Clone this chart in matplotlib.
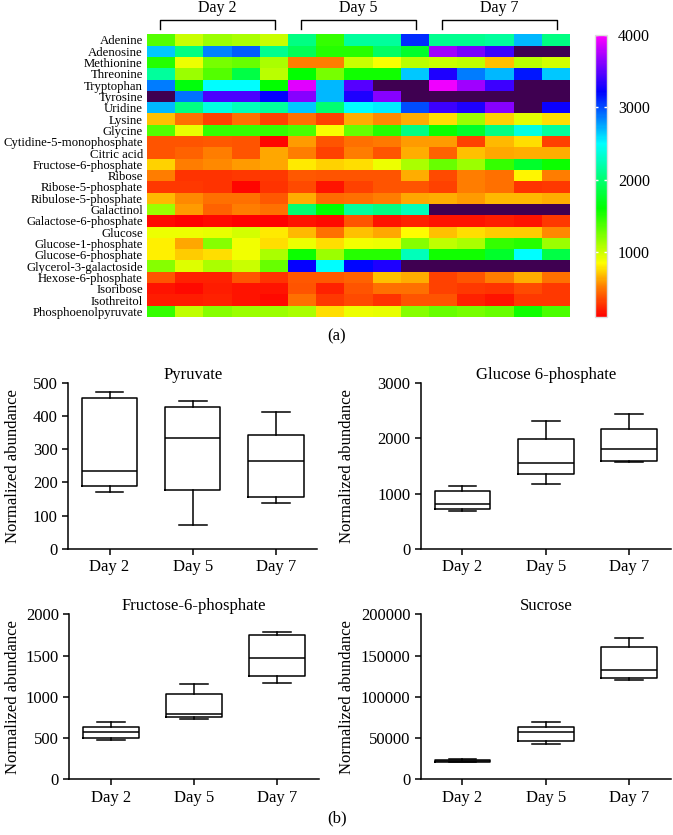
import matplotlib
matplotlib.use('Agg')
import matplotlib.pyplot as plt
from matplotlib.colors import LinearSegmentedColormap, Normalize
import numpy as np

plt.rcParams['font.family'] = ['Liberation Serif', 'DejaVu Serif']

# --- data ---
metabolites = ['Adenine', 'Adenosine', 'Methionine', 'Threonine', 'Tryptophan',
               'Tyrosine', 'Uridine', 'Lysine', 'Glycine',
               'Cytidine-5-monophosphate', 'Citric acid', 'Fructose-6-phosphate',
               'Ribose', 'Ribose-5-phosphate', 'Ribulose-5-phosphate', 'Galactinol',
               'Galactose-6-phosphate', 'Glucose', 'Glucose-1-phosphate',
               'Glucose-6-phosphate', 'Glycerol-3-galactoside', 'Hexose-6-phosphate',
               'Isoribose', 'Isothreitol', 'Phosphoenolpyruvate']
days = ['Day 2', 'Day 5', 'Day 7']
reps_per_day = 5

# 25 metabolites x 15 samples (5 per day), values > 4000 shown as the "over" colour
heat_values = [
    [1350, 1000, 1150, 1100, 1000, 2050, 1450, 2150, 2150, 3100, 2100, 2100, 2150, 2700, 2050],
    [2650, 2050, 2850, 2950, 2100, 1900, 1500, 1500, 1950, 1750, 3700, 3580, 3400, 4500, 4500],
    [1500, 900, 1250, 1300, 1100, 520, 520, 1000, 870, 1050, 1000, 1030, 690, 1050, 980],
    [2150, 1150, 1350, 1850, 1050, 1600, 1250, 1550, 1550, 2650, 3300, 2870, 2700, 3150, 2650],
    [2870, 1650, 2500, 2500, 1600, 3900, 2700, 3480, 4500, 4500, 3950, 3700, 3400, 4500, 4500],
    [4500, 2900, 3450, 3450, 3230, 3620, 2700, 3300, 3620, 4500, 4500, 4500, 4500, 4500, 4500],
    [2700, 2050, 2400, 2250, 2150, 2650, 2000, 2500, 2550, 3000, 3400, 3300, 3620, 4500, 3250],
    [690, 480, 320, 480, 320, 480, 320, 640, 550, 640, 770, 1150, 730, 930, 760],
    [1350, 920, 1450, 1450, 1450, 1380, 870, 1300, 1500, 2050, 1570, 1750, 2050, 2400, 2150],
    [380, 380, 390, 380, 120, 590, 380, 480, 500, 590, 590, 320, 670, 770, 320],
    [380, 430, 520, 380, 620, 520, 320, 520, 380, 640, 430, 690, 620, 640, 640],
    [730, 520, 550, 590, 620, 790, 730, 770, 900, 1100, 1300, 1150, 1450, 1750, 1570],
    [520, 270, 270, 290, 290, 400, 380, 380, 380, 640, 350, 520, 480, 830, 520],
    [290, 290, 270, 120, 270, 350, 170, 320, 380, 380, 320, 520, 480, 270, 290],
    [670, 550, 480, 480, 400, 640, 460, 480, 520, 620, 640, 590, 670, 670, 640],
    [1150, 590, 430, 520, 480, 2000, 1600, 2150, 2050, 2250, 4500, 4500, 4500, 4500, 4500],
    [140, 110, 140, 110, 110, 170, 140, 380, 170, 220, 170, 170, 200, 170, 290],
    [900, 900, 920, 980, 790, 670, 480, 690, 620, 840, 690, 760, 710, 710, 550],
    [810, 620, 1200, 880, 770, 900, 770, 890, 900, 1200, 1030, 1100, 1450, 1500, 1150],
    [810, 710, 770, 880, 1100, 1570, 1150, 1500, 1500, 2250, 1550, 1550, 1750, 2500, 1850],
    [1200, 950, 1100, 1000, 1300, 3230, 2500, 3200, 3300, 4500, 4500, 4500, 4500, 4500, 4500],
    [380, 220, 220, 380, 270, 400, 400, 430, 690, 640, 320, 380, 520, 640, 480],
    [170, 140, 200, 170, 170, 380, 220, 380, 480, 480, 320, 290, 270, 350, 290],
    [200, 200, 220, 170, 140, 480, 290, 350, 270, 380, 380, 220, 170, 290, 290],
    [1450, 1030, 1200, 1150, 1150, 1100, 770, 900, 920, 1200, 1300, 1250, 1300, 1550, 1380],
]
color_ticks = [1000, 2000, 3000, 4000]

# box plot stats per day: (min, q1, median, q3, max)
pyruvate = [(172, 190, 235, 455, 472), (72, 178, 335, 428, 445), (137, 155, 265, 342, 412)]
glucose_6p = [(690, 730, 820, 1040, 1140), (1170, 1360, 1560, 1980, 2310),
              (1570, 1590, 1810, 2170, 2440)]
fructose_6p = [(480, 500, 575, 630, 700), (730, 750, 790, 1040, 1160),
               (1170, 1250, 1475, 1750, 1790)]
sucrose = [(20500, 21300, 22200, 23300, 24300), (43000, 46000, 57000, 63000, 69000),
           (120000, 123000, 133000, 160000, 171000)]

# --- figure ---
fig = plt.figure(figsize=(6.73, 8.35), dpi=100)

cmap = LinearSegmentedColormap.from_list('spectrum', [
    (0.0, '#ff0000'), (0.108, '#ff8000'), (0.19, '#ffff00'), (0.385, '#00ff00'),
    (0.615, '#00ffff'), (0.80, '#0000ff'), (1.0, '#ff00ff')])
cmap.set_over('#3f0051')
norm = Normalize(vmin=100, vmax=4000)

ax = fig.add_axes([0.2184, 0.6204, 0.6285, 0.3385])
data = np.array(heat_values)
mesh = ax.pcolormesh(np.arange(data.shape[1] + 1), np.arange(data.shape[0] + 1),
                     data, cmap=cmap, norm=norm)
ax.set_xlim(0, data.shape[1])
ax.set_ylim(data.shape[0], 0)
ax.set_yticks(np.arange(len(metabolites)) + 0.5)
ax.set_yticklabels(metabolites, fontsize=9.2)
ax.tick_params(axis='y', length=0, pad=3)
ax.set_xticks([])
for s in ax.spines.values():
    s.set_visible(False)

# day brackets above the heatmap
for i, day in enumerate(days):
    c = i * reps_per_day + reps_per_day / 2
    x0, x1 = c - 2.05, c + 2.05
    ax.plot([x0, x0, x1, x1], [-0.44, -1.26, -1.26, -0.44], color='black',
            lw=1.0, clip_on=False)
    ax.text(c, -2.35, day, ha='center', va='center', fontsize=11.5)

cax = fig.add_axes([0.8841, 0.6204, 0.0178, 0.3376])
cbar = fig.colorbar(mesh, cax=cax, ticks=color_ticks)
cbar.outline.set_edgecolor('#dddddd')
cbar.outline.set_linewidth(1.0)
cax.tick_params(direction='in', color='white', length=2.5, width=1.0,
                left=True, right=True, labelsize=11.5, pad=8)

fig.text(0.5007, 0.5976, '(a)', ha='center', va='center', fontsize=12)


def box_panel(rect, title, stats, yticks, label_x):
    bx = fig.add_axes(rect)
    bstats = [dict(whislo=s[0], q1=s[1], med=s[2], q3=s[3], whishi=s[4], label=d)
              for s, d in zip(stats, days)]
    line = dict(color='black', linewidth=1.1)
    bx.bxp(bstats, widths=0.667, showfliers=False, boxprops=line,
           whiskerprops=line, capprops=line, medianprops=line)
    bx.set_xlim(0.5, 3.5)
    bx.set_ylim(0, yticks[-1])
    bx.set_yticks(yticks)
    bx.set_title(title, fontsize=12, pad=2)
    bx.set_ylabel('Normalized abundance', fontsize=12)
    bx.yaxis.set_label_coords(label_x, 0.5)
    bx.spines['top'].set_visible(False)
    bx.spines['right'].set_visible(False)
    for s in ['left', 'bottom']:
        bx.spines[s].set_linewidth(1.1)
    bx.tick_params(direction='out', length=4, width=1.1, labelsize=12)
    return bx


box_panel([0.101, 0.3425, 0.3707, 0.1992], 'Pyruvate', pyruvate,
          [0, 100, 200, 300, 400, 500], -0.19)
box_panel([0.6251, 0.3425, 0.372, 0.1992], 'Glucose 6-phosphate', glucose_6p,
          [0, 1000, 2000, 3000], -0.264)
box_panel([0.103, 0.0667, 0.3707, 0.1976], 'Fructose-6-phosphate', fructose_6p,
          [0, 500, 1000, 1500, 2000], -0.195)
box_panel([0.6251, 0.0667, 0.372, 0.1976], 'Sucrose', sucrose,
          [0, 50000, 100000, 150000, 200000], -0.264)

fig.text(0.5007, 0.0204, '(b)', ha='center', va='center', fontsize=12)

fig.savefig('out.png', dpi=100)
